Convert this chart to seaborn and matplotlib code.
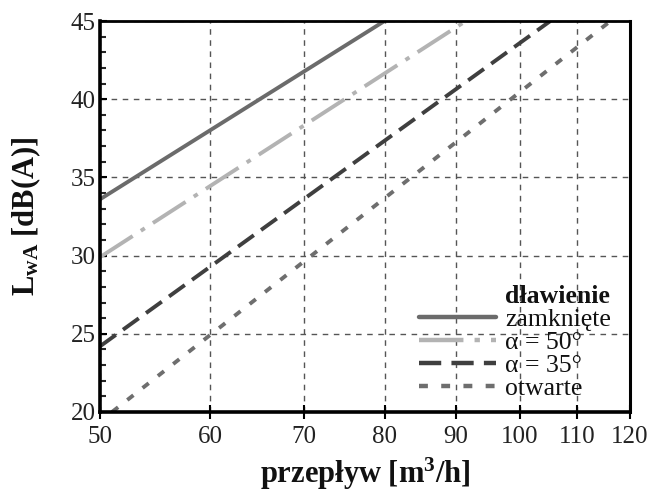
import numpy as np
import pandas as pd
import matplotlib
matplotlib.use("Agg")
import matplotlib.pyplot as plt
import matplotlib.ticker as mticker
from matplotlib.lines import Line2D
import seaborn as sns

# Sound power level vs. air flow for four damper settings (straight lines on log flow axis)
series_names = ["zamknięte", "α = 50°", "α = 35°", "otwarte"]
flow_zamkniete = [50, 80.0]
level_zamkniete = [33.6, 45.0]
flow_a50 = [50, 91.5]
level_a50 = [29.9, 45.0]
flow_a35 = [50, 105.2]
level_a35 = [24.2, 45.0]
flow_otwarte = [51.0, 116.2]
level_otwarte = [20.0, 45.0]

x_ticks = [50, 60, 70, 80, 90, 100, 110, 120]
y_ticks = [20, 25, 30, 35, 40, 45]

frames = []
for name, fx, fy in zip(series_names,
                        [flow_zamkniete, flow_a50, flow_a35, flow_otwarte],
                        [level_zamkniete, level_a50, level_a35, level_otwarte]):
    frames.append(pd.DataFrame({"flow": fx, "level": fy, "series": name}))
df = pd.concat(frames, ignore_index=True)

colors = {"zamknięte": "#6b6b6b", "α = 50°": "#b3b3b3",
          "α = 35°": "#3f3f3f", "otwarte": "#6e6e6e"}
dashes = {"zamknięte": "", "α = 50°": (10, 2.5, 1.2, 2.5),
          "α = 35°": (5, 2.3), "otwarte": (2.0, 3.0)}

sns.set_theme(style="white")
plt.rcParams["font.family"] = ["Liberation Serif", "DejaVu Serif"]
plt.rcParams["mathtext.fontset"] = "custom"
plt.rcParams["mathtext.rm"] = "Liberation Serif"
plt.rcParams["mathtext.bf"] = "Liberation Serif:bold"
plt.rcParams["mathtext.it"] = "Liberation Serif:italic"

fig = plt.figure(figsize=(6.51, 4.93), dpi=100)
ax = fig.add_axes([100 / 651, 1 - 412 / 493, 530 / 651, 391 / 493])

sns.lineplot(data=df, x="flow", y="level", hue="series", style="series",
             palette=colors, dashes=dashes, linewidth=2.8, ax=ax,
             legend=False, sort=False)

ax.set_xscale("log")
ax.set_xlim(50, 120)
ax.set_ylim(20, 45)
ax.xaxis.set_major_locator(mticker.FixedLocator(x_ticks))
ax.xaxis.set_major_formatter(mticker.FixedFormatter([str(v) for v in x_ticks]))
ax.xaxis.set_minor_locator(mticker.NullLocator())
ax.yaxis.set_major_locator(mticker.FixedLocator(y_ticks))
ax.yaxis.set_minor_locator(mticker.MultipleLocator(1))

ax.grid(True, which="major", color="#555555", linestyle=(0, (4, 4)), linewidth=1.0)
ax.set_axisbelow(True)

for side, lw in [("left", 2.6), ("bottom", 2.6), ("top", 2.0), ("right", 2.2)]:
    ax.spines[side].set_visible(True)
    ax.spines[side].set_color("black")
    ax.spines[side].set_linewidth(lw)

ax.tick_params(axis="x", which="major", direction="inout", length=10, width=1.5,
               labelsize=18, pad=5, colors="black", bottom=True)
ax.tick_params(axis="y", which="major", direction="in", length=5, width=1.5,
               labelsize=18, pad=3, colors="black", left=True)
ax.tick_params(axis="y", which="minor", direction="in", length=4, width=1.5,
               left=True)
for lab in ax.get_xticklabels() + ax.get_yticklabels():
    lab.set_color("#222222")

ax.set_xlabel(r"przepływ [m$^{\mathbf{3}}$/h]", fontsize=22, fontweight="bold",
              labelpad=6, color="#111111")
ax.set_ylabel(r"$\mathbf{L_{wA}}$ [dB(A)]", fontsize=22, fontweight="bold",
              labelpad=20, color="#111111")

handles = [Line2D([], [], linestyle="none")]
labels = ["dławienie"]
for name in series_names:
    handles.append(Line2D([], [], color=colors[name], linewidth=3.2,
                          linestyle=(0, dashes[name]) if dashes[name] else "-"))
    labels.append(name)
leg = ax.legend(handles, labels, loc="lower right", frameon=False,
                fontsize=18.5, handlelength=3.0, handletextpad=0.35,
                labelspacing=0.0, borderpad=0.0, borderaxespad=0.0,
                bbox_to_anchor=(0.964, 0.03))
leg.get_texts()[0].set_fontweight("bold")
for t in leg.get_texts():
    t.set_color("#111111")

fig.savefig("out.png", dpi=100)
